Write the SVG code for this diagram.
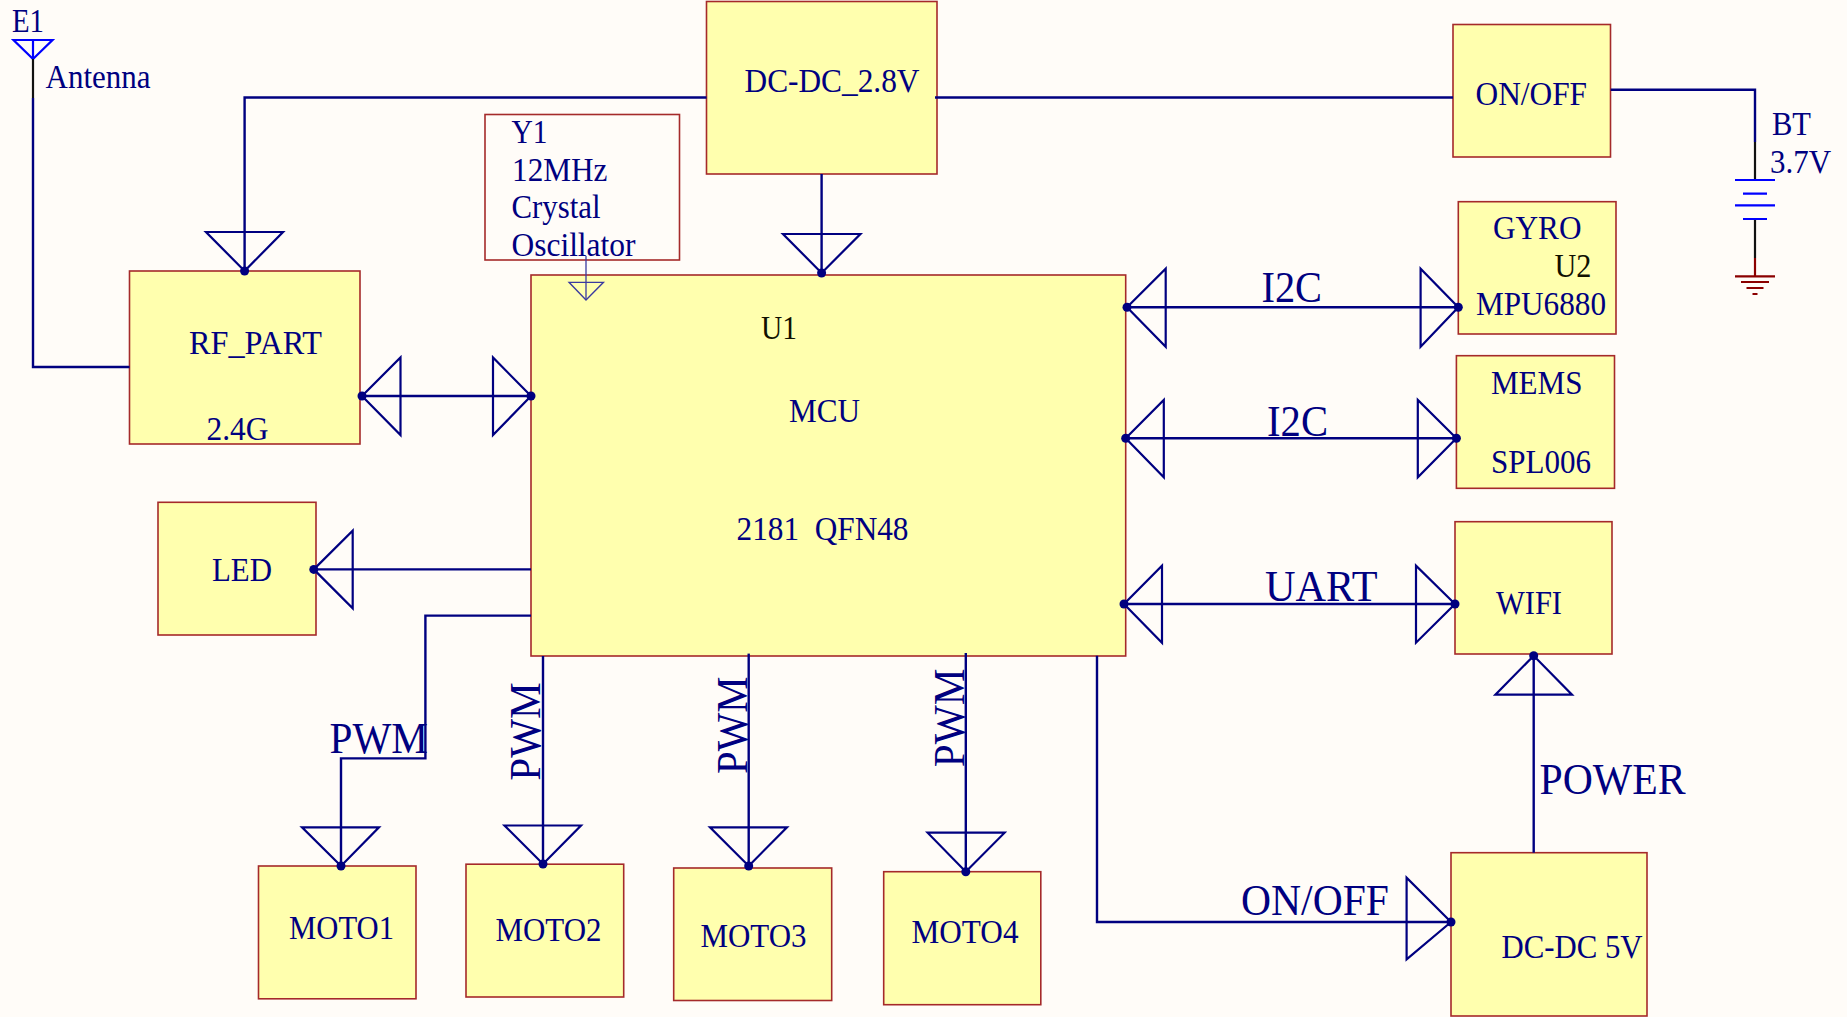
<svg xmlns="http://www.w3.org/2000/svg" width="1847" height="1017" viewBox="0 0 1847 1017">
<style>
text{font-family:"Liberation Serif","Times New Roman",serif;fill:#000080;font-size:33px}
.big{font-size:44px}
.vert{font-size:45px}
.blk{fill:#101000}
.box{fill:#FFFFAE;stroke:#A52A2A;stroke-width:1.6}
.plain{fill:none}
.w{fill:none;stroke:#000080;stroke-width:2.4}
.t{fill:none;stroke:#000080;stroke-width:2.2;stroke-linejoin:miter}
.thin{fill:none;stroke:#3A3AA0;stroke-width:1.3}
.blue{fill:none;stroke:#0000FF;stroke-width:2.2}
.k{fill:none;stroke:#111111;stroke-width:2.2}
.red{fill:none;stroke:#8B0000;stroke-width:2.2}
.d{fill:#000080}
</style>
<rect width="1847" height="1017" fill="#FFFCF8"/>

<g id="E1">
<text x="12" y="32" textLength="32" lengthAdjust="spacingAndGlyphs">E1</text>
<text x="45.5" y="88" textLength="105" lengthAdjust="spacingAndGlyphs">Antenna</text>
<polygon class="blue" points="13.5,40 52.5,40 33,59"/>
<path class="blue" d="M33 40V59"/>
<path class="k" d="M33 59V98"/>
</g>
<g id="RF_PART">
<rect class="box" x="129.5" y="271" width="230.5" height="173"/>
<text x="189" y="354" textLength="133" lengthAdjust="spacingAndGlyphs">RF_PART</text>
<text x="206.5" y="440" textLength="62" lengthAdjust="spacingAndGlyphs">2.4G</text>
</g>
<g id="Y1">
<rect class="box plain" x="485" y="114.5" width="194.5" height="145.5"/>
<text x="511.5" y="143" textLength="36" lengthAdjust="spacingAndGlyphs">Y1</text>
<text x="512" y="181" textLength="95.5" lengthAdjust="spacingAndGlyphs">12MHz</text>
<text x="511.5" y="218" textLength="89" lengthAdjust="spacingAndGlyphs">Crystal</text>
<text x="511.5" y="256" textLength="124" lengthAdjust="spacingAndGlyphs">Oscillator</text>
</g>
<g id="DCDC28">
<rect class="box" x="706.5" y="1.5" width="230.5" height="172.5"/>
<text x="744.5" y="92" textLength="175" lengthAdjust="spacingAndGlyphs">DC-DC_2.8V</text>
</g>
<g id="ONOFF">
<rect class="box" x="1453" y="24.5" width="157.5" height="132.5"/>
<text x="1475.5" y="105" textLength="111.5" lengthAdjust="spacingAndGlyphs">ON/OFF</text>
</g>
<g id="BT">
<text x="1772" y="135" textLength="39" lengthAdjust="spacingAndGlyphs">BT</text>
<text x="1770" y="173" textLength="61" lengthAdjust="spacingAndGlyphs">3.7V</text>
<path class="k" d="M1755 142V180M1755 219V258"/>
<path class="blue" d="M1735 180H1775M1743 193.7H1767M1735 205.3H1775M1743 219H1767"/>
<path class="red" d="M1755 258V276.3M1735 276.3H1775M1741 282H1769M1746.5 288H1763.5M1752.5 294H1757.5"/>
</g>
<g id="U1">
<rect class="box" x="531" y="275" width="594.7" height="381"/>
<text class="blk" x="761" y="338.5" textLength="36" lengthAdjust="spacingAndGlyphs">U1</text>
<text x="789" y="422" textLength="71" lengthAdjust="spacingAndGlyphs">MCU</text>
<text x="736.5" y="540" textLength="172" lengthAdjust="spacingAndGlyphs" xml:space="preserve">2181  QFN48</text>
</g>
<g id="U2">
<rect class="box" x="1458.3" y="201.7" width="157.7" height="132.3"/>
<text x="1493" y="239" textLength="88.5" lengthAdjust="spacingAndGlyphs">GYRO</text>
<text class="blk" x="1554.5" y="276.5" textLength="37" lengthAdjust="spacingAndGlyphs">U2</text>
<text x="1476" y="315" textLength="130" lengthAdjust="spacingAndGlyphs">MPU6880</text>
</g>
<g id="MEMS">
<rect class="box" x="1456.4" y="355.7" width="158.1" height="132.6"/>
<text x="1491" y="393.5" textLength="91.5" lengthAdjust="spacingAndGlyphs">MEMS</text>
<text x="1491" y="472.5" textLength="100" lengthAdjust="spacingAndGlyphs">SPL006</text>
</g>
<g id="LED">
<rect class="box" x="158" y="502.3" width="158" height="132.7"/>
<text x="212" y="580.5" textLength="60" lengthAdjust="spacingAndGlyphs">LED</text>
</g>
<g id="WIFI">
<rect class="box" x="1455" y="521.7" width="157" height="132.3"/>
<text x="1496" y="613.5" textLength="66" lengthAdjust="spacingAndGlyphs">WIFI</text>
</g>
<g id="MOTO1">
<rect class="box" x="258.5" y="866" width="157.5" height="132.8"/>
<text x="289" y="939" textLength="105" lengthAdjust="spacingAndGlyphs">MOTO1</text>
</g>
<g id="MOTO2">
<rect class="box" x="466" y="864.2" width="157.7" height="132.8"/>
<text x="495.5" y="941" textLength="106" lengthAdjust="spacingAndGlyphs">MOTO2</text>
</g>
<g id="MOTO3">
<rect class="box" x="673.7" y="868" width="158" height="132.5"/>
<text x="700.5" y="946.5" textLength="106" lengthAdjust="spacingAndGlyphs">MOTO3</text>
</g>
<g id="MOTO4">
<rect class="box" x="883.7" y="871.7" width="157.1" height="133"/>
<text x="911.5" y="942.5" textLength="107" lengthAdjust="spacingAndGlyphs">MOTO4</text>
</g>
<g id="DCDC5">
<rect class="box" x="1451" y="852.7" width="196" height="163.3"/>
<text x="1501.5" y="958" textLength="141" lengthAdjust="spacingAndGlyphs">DC-DC 5V</text>
</g>

<g id="connectors">
<path class="w" d="M33 98V367H129.5"/>
<path class="w" d="M706.5 97.5H244.6V271"/>
<polygon class="t" points="206,232 283,232 244.6,271"/><circle class="d" cx="244.6" cy="271" r="4.5"/>
<path class="w" d="M935 97.5H1453"/>
<path class="w" d="M821.6 174V273"/>
<polygon class="t" points="783,234 860.4,234 821.6,273"/><circle class="d" cx="821.6" cy="273" r="4.5"/>
<path class="w" d="M1610.7 89.7H1755V142"/>
<path class="thin" d="M586 256V300"/>
<polygon class="thin" points="569,282.3 603.5,282.3 586,300"/>

<path class="w" d="M362 396H531"/>
<polygon class="t" points="362,396 400.5,357.5 400.5,435"/>
<polygon class="t" points="531,396 493,357.5 493,435"/>
<circle class="d" cx="362" cy="396" r="4.5"/><circle class="d" cx="531" cy="396" r="4.5"/>

<path class="w" d="M1127 307.3H1458.3"/>
<polygon class="t" points="1127,307.3 1165.7,268.7 1165.7,346.7"/>
<polygon class="t" points="1458.3,307.3 1420.6,268.7 1420.6,346.7"/>
<circle class="d" cx="1127" cy="307.3" r="4.5"/><circle class="d" cx="1458.3" cy="307.3" r="4.5"/>
<text class="big" x="1261.5" y="302" textLength="60.5" lengthAdjust="spacingAndGlyphs">I2C</text>

<path class="w" d="M1125.7 438.3H1456.4"/>
<polygon class="t" points="1125.7,438.3 1163.8,400 1163.8,477.3"/>
<polygon class="t" points="1456.4,438.3 1417.8,400 1417.8,477.3"/>
<circle class="d" cx="1125.7" cy="438.3" r="4.5"/><circle class="d" cx="1456.4" cy="438.3" r="4.5"/>
<text class="big" x="1267" y="435.5" textLength="61" lengthAdjust="spacingAndGlyphs">I2C</text>

<path class="w" d="M1124 604H1455"/>
<polygon class="t" points="1124,604 1162,565.7 1162,642.7"/>
<polygon class="t" points="1455,604 1416,565.7 1416,642.7"/>
<circle class="d" cx="1124" cy="604" r="4.5"/><circle class="d" cx="1455" cy="604" r="4.5"/>
<text class="big" x="1265" y="601" textLength="112.5" lengthAdjust="spacingAndGlyphs">UART</text>

<path class="w" d="M531 569.4H313.8"/>
<polygon class="t" points="313.8,569.4 352.7,530.7 352.7,608.4"/>
<circle class="d" cx="313.8" cy="569.4" r="4.5"/>

<path class="w" d="M531 615.6H425.4V758.4H341V866"/>
<polygon class="t" points="302,827.3 379,827.3 341,866"/><circle class="d" cx="341" cy="866" r="4.5"/>
<text class="big" x="329.5" y="753" textLength="98.5" lengthAdjust="spacingAndGlyphs">PWM</text>

<path class="w" d="M543 656V864"/>
<polygon class="t" points="504.5,825.5 581,825.5 543,864"/><circle class="d" cx="543" cy="864" r="4.5"/>
<text class="vert" transform="translate(539.5 780.8) rotate(-90)" textLength="98.5" lengthAdjust="spacingAndGlyphs">PWM</text>

<path class="w" d="M748.7 653.6V866"/>
<polygon class="t" points="710,827.3 787,827.3 748.7,866"/><circle class="d" cx="748.7" cy="866" r="4.5"/>
<text class="vert" transform="translate(746.5 774) rotate(-90)" textLength="97.5" lengthAdjust="spacingAndGlyphs">PWM</text>

<path class="w" d="M965.8 653V871.7"/>
<polygon class="t" points="927.6,832.7 1004.6,832.7 965.8,871.7"/><circle class="d" cx="965.8" cy="871.7" r="4.5"/>
<text class="vert" transform="translate(963.5 767.2) rotate(-90)" textLength="98.7" lengthAdjust="spacingAndGlyphs">PWM</text>

<path class="w" d="M1097 655.7V922H1451"/>
<polygon class="t" points="1451,922 1406.6,877.7 1406.6,959.3"/><circle class="d" cx="1451" cy="922" r="4.5"/>
<text class="big" x="1241" y="915" textLength="148" lengthAdjust="spacingAndGlyphs">ON/OFF</text>

<path class="w" d="M1533.7 852.7V655.7"/>
<polygon class="t" points="1533.7,655.7 1495.4,694.7 1572,694.7"/><circle class="d" cx="1533.7" cy="655.7" r="4.5"/>
<text class="big" x="1539.5" y="794" textLength="146" lengthAdjust="spacingAndGlyphs">POWER</text>
</g>
</svg>
